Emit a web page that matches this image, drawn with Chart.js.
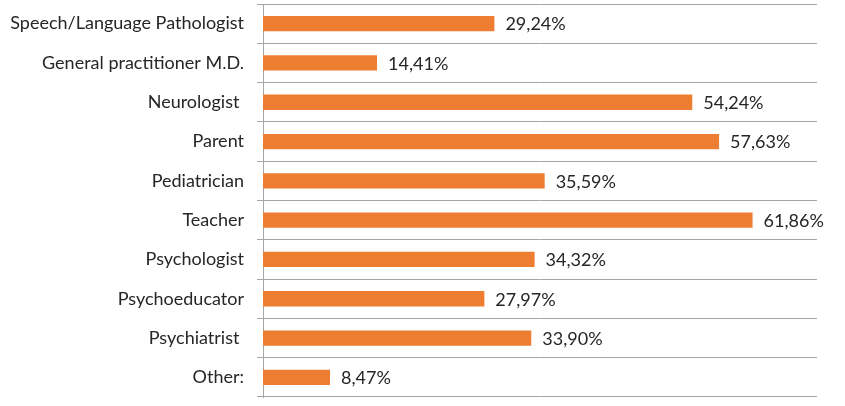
<!DOCTYPE html>
<html>
<head>
<meta charset="utf-8">
<script src="https://cdn.jsdelivr.net/npm/chart.js@4"></script>
<style>
    html, body { margin: 0; padding: 0; background: #fff; }
    #wrap { width: 845px; height: 406px; }
</style>
</head>
<body>
<div id="wrap"><canvas id="chart"></canvas></div>
<script>
const categories = [
    "Speech/Language Pathologist",
    "General practitioner M.D.",
    "Neurologist ",
    "Parent",
    "Pediatrician",
    "Teacher",
    "Psychologist",
    "Psychoeducator",
    "Psychiatrist ",
    "Other:"
];
const percentages = [29.24, 14.41, 54.24, 57.63, 35.59, 61.86, 34.32, 27.97, 33.90, 8.47];

const fontFamily = "Lato, 'Open Sans', sans-serif";

// value labels drawn right of each bar, with comma decimals
const barValueLabels = {
    id: "barValueLabels",
    afterDatasetsDraw(chart) {
        const ctx = chart.ctx;
        const meta = chart.getDatasetMeta(0);
        ctx.save();
        ctx.font = "18px " + fontFamily;
        ctx.fillStyle = "#262626";
        ctx.textAlign = "left";
        ctx.textBaseline = "middle";
        meta.data.forEach((bar, i) => {
            const text = percentages[i].toFixed(2).replace(".", ",") + "%";
            ctx.fillText(text, bar.x + 11, bar.y + 1);
        });
        ctx.restore();
    }
};

new Chart(document.getElementById("chart"), {
    type: "bar",
    data: {
        labels: categories,
        datasets: [{
            data: percentages,
            backgroundColor: "#ED7D31",
            borderWidth: 0,
            barPercentage: 0.39,
            categoryPercentage: 1
        }]
    },
    options: {
        indexAxis: "y",
        responsive: true,
        maintainAspectRatio: false,
        animation: false,
        layout: { padding: { top: 4, bottom: 9, right: 28, left: 0 } },
        plugins: {
            legend: { display: false },
            tooltip: { enabled: false }
        },
        scales: {
            x: {
                display: false,
                min: 0,
                max: 70
            },
            y: {
                afterFit(scale) {
                    scale.width = 263;
                    scale.paddingTop = 0;
                    scale.paddingBottom = 0;
                },
                grid: {
                    offset: true,
                    color: "#A6A6A6",
                    lineWidth: 1,
                    tickLength: 6
                },
                border: { color: "#A6A6A6", width: 1 },
                ticks: {
                    padding: 13,
                    color: "#262626",
                    font: { family: fontFamily, size: 18 }
                }
            }
        }
    },
    plugins: [barValueLabels]
});
</script>
</body>
</html>
